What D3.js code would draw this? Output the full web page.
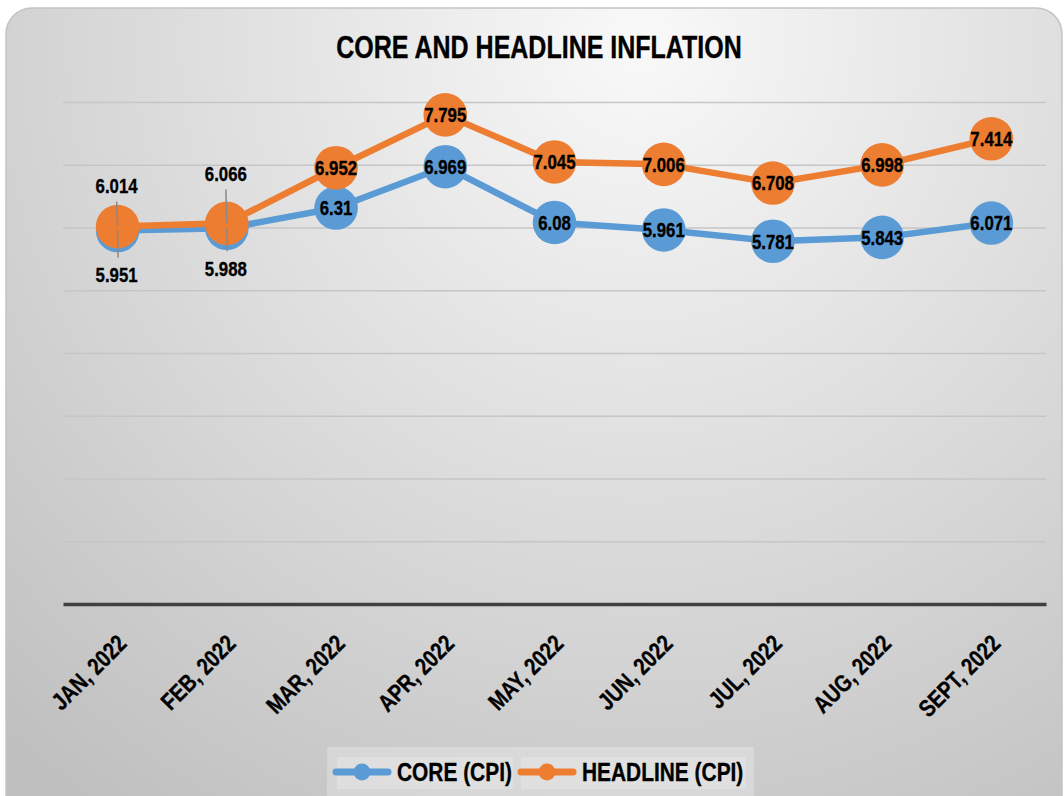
<!DOCTYPE html>
<html><head><meta charset="utf-8">
<script src="https://cdn.jsdelivr.net/npm/d3@7"></script>
<style>body{margin:0;background:#fff;} svg{display:block}</style>
</head><body><svg id="c" width="1064" height="796"></svg>
<script>
const categories = ["JAN, 2022","FEB, 2022","MAR, 2022","APR, 2022","MAY, 2022","JUN, 2022","JUL, 2022","AUG, 2022","SEPT, 2022"];
const coreValues = [5.951, 5.988, 6.31, 6.969, 6.08, 5.961, 5.781, 5.843, 6.071];
const headlineValues = [6.014, 6.066, 6.952, 7.795, 7.045, 7.006, 6.708, 6.998, 7.414];
const yTicks = [0,1,2,3,4,5,6,7,8];
const seriesNames = ["CORE (CPI)", "HEADLINE (CPI)"];
const seriesColors = ["#5B9BD5", "#ED7D31"];
const titleText = "CORE AND HEADLINE INFLATION";

const FONT = "'Liberation Sans',Arial,sans-serif";
const SX = 0.82; // narrow face emulation
const svg = d3.select("#c");
const defs = svg.append("defs");
const rg = defs.append("radialGradient").attr("id","bg").attr("gradientUnits","userSpaceOnUse")
  .attr("cx",640).attr("cy",40).attr("r",950);
rg.append("stop").attr("offset",0).attr("stop-color","#f9f9f9");
rg.append("stop").attr("offset",1).attr("stop-color","#bfbfbf");

svg.append("rect").attr("x",6).attr("y",8).attr("width",1056).attr("height",840).attr("rx",26)
  .attr("fill","url(#bg)").attr("stroke","#c4c4c4").attr("stroke-width",1.5);

const x = d3.scalePoint().domain(categories).range([63,1046]).padding(0.5);
const y = d3.scaleLinear().domain([0,8]).range([604,102]);

// gridlines
const grid = svg.append("g").attr("transform","translate(63,0)")
  .call(d3.axisLeft(y).tickValues(yTicks.filter(v=>v>0)).tickSize(-983).tickFormat(""));
grid.select(".domain").remove();
grid.selectAll(".tick line").attr("stroke","#c6c6c6").attr("stroke-width",1.6);

// x axis
const xa = svg.append("g").attr("transform",`translate(0,${y(0)})`)
  .call(d3.axisBottom(x).tickSize(0).tickSizeOuter(0));
xa.select(".domain").attr("stroke","#404040").attr("stroke-width",3.5);
xa.selectAll(".tick text")
  .attr("x",0).attr("y",0).attr("dy",0)
  .attr("transform",`translate(10,41) rotate(-45) scale(${SX},1)`)
  .attr("text-anchor","end")
  .attr("stroke","#000").attr("stroke-width",0.35)
  .style("font-family",FONT).style("font-weight","bold").style("font-size","24px").attr("fill","#000");

function ntext(g, tx, ty, str, size, anchor, dy) {
  return g.append("text").attr("transform",`translate(${tx},${ty}) scale(${SX},1)`)
    .attr("x",0).attr("y",0).attr("dy",dy||0).attr("text-anchor",anchor)
    .attr("stroke","#000").attr("stroke-width",0.35)
    .style("font-family",FONT).style("font-weight","bold").style("font-size",size+"px").attr("fill","#000")
    .text(str);
}

// title
ntext(svg, 539, 58, titleText, 30.5, "middle");

const series = [coreValues, headlineValues];
const line = d3.line().x((d,i)=>x(categories[i])).y(d=>y(d));
series.forEach((vals, s) => {
  const g = svg.append("g");
  g.append("path").attr("d", line(vals)).attr("fill","none")
    .attr("stroke", seriesColors[s]).attr("stroke-width",6.5).attr("stroke-linejoin","round");
  g.selectAll("circle").data(vals).join("circle")
    .attr("cx",(d,i)=>x(categories[i])).attr("cy",d=>y(d)).attr("r",21.8)
    .attr("fill",seriesColors[s]);
});

// data labels
const overlapOffsets = {0:[44,-41], 1:[40,-50]}; // [core below, headline above]
const lab = svg.append("g");
series.forEach((vals, s) => {
  vals.forEach((v,i) => {
    const cx = x(categories[i]), cy = y(v);
    if (overlapOffsets[i]) {
      const off = overlapOffsets[i][s];
      const ly = cy + off;
      lab.append("line").attr("x1",cx).attr("y1",cy)
        .attr("x2",cx - (s===0? -0.5 : 1)).attr("y2", s===0 ? ly-17 : ly+16)
        .attr("stroke","#8a8a8a").attr("stroke-width",1.5);
      ntext(lab, cx-1, ly, v, 20.5, "middle", "0.36em");
    } else {
      ntext(lab, cx, cy, v, 20.5, "middle", "0.36em");
    }
  });
});

// legend
const lg = svg.append("g");
lg.append("rect").attr("x",327).attr("y",747).attr("width",427).attr("height",60).attr("fill","#ffffff").attr("fill-opacity",0.25);
const items = [
  {sx:333, tx:397, bx:337, bw:176},
  {sx:518, tx:582, bx:521, bw:225}
];
items.forEach((it, s) => {
  lg.append("rect").attr("x",it.bx).attr("y",757).attr("width",it.bw).attr("height",32)
    .attr("fill","#ffffff").attr("fill-opacity",0.2);
  lg.append("line").attr("x1",it.sx+3).attr("x2",it.sx+55).attr("y1",772).attr("y2",772)
    .attr("stroke",seriesColors[s]).attr("stroke-width",7).attr("stroke-linecap","round");
  lg.append("circle").attr("cx",it.sx+29).attr("cy",772).attr("r",8.5).attr("fill",seriesColors[s]);
  ntext(lg, it.tx, 781, seriesNames[s], 25.5, "start");
});
</script></body></html>
